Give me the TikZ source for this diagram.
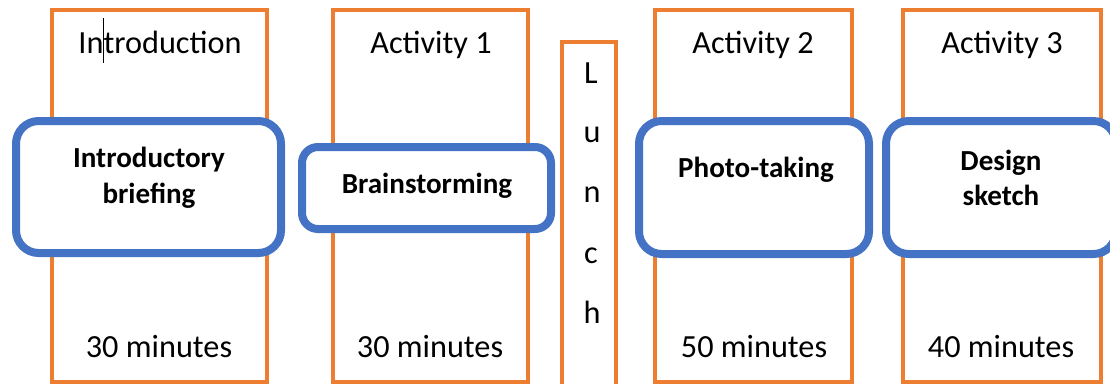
\documentclass[tikz,border=0pt]{standalone}
\usepackage{fontspec}
\setmainfont{Carlito}
\usetikzlibrary{fit}
\definecolor{org}{HTML}{ED7D31}
\definecolor{blu}{HTML}{4472C4}
\begin{document}
\begin{tikzpicture}[x=0.75pt,y=-0.75pt,
  col/.style={draw=org, line width=2.7pt, fill=white, inner sep=0pt},
  actbig/.style={draw=blu, line width=6pt, fill=white, inner sep=0pt, rounded corners=17pt},
  actsmall/.style={draw=blu, line width=6pt, fill=white, inner sep=0pt, rounded corners=12pt},
  ttl/.style={font=\fontsize{24.2}{29}\selectfont, anchor=base, inner sep=0pt},
  lun/.style={font=\fontsize{24.2}{29}\selectfont, anchor=base, inner sep=0pt},
  bld/.style={font=\bfseries\fontsize{21.8}{27}\selectfont, anchor=base, inner sep=0pt}]
\path[use as bounding box] (0,0) rectangle (1110,383);
\clip (0,0) rectangle (1110,383);
% orange columns
\node[col, fit={(52,10) (267,382)}] (c1) {};
\node[col, fit={(333,10) (528,382)}] (c2) {};
\node[col, fit={(562,42) (616,400)}] (lunch) {};
\node[col, fit={(655,10) (852,382)}] (c3) {};
\node[col, fit={(903,10) (1101,382)}] (c4) {};
% titles
\node[ttl] (t1) at (160,53) {In\makebox[0pt]{\rule[-0.3em]{0.9pt}{1.4em}}troduction};
\node[ttl] (t2) at (431,53) {Activity 1};
\node[ttl] (t3) at (753,53) {Activity 2};
\node[ttl] (t4) at (1002,53) {Activity 3};
% durations
\node[ttl] (m1) at (159,357) {30 minutes};
\node[ttl] (m2) at (430,357) {30 minutes};
\node[ttl] (m3) at (754,357) {50 minutes};
\node[ttl] (m4) at (1001,357) {40 minutes};
% lunch letters
\node[lun] (l1) at (591,83) {L};
\node[lun] (l2) at (592,142) {u};
\node[lun] (l3) at (592,202) {n};
\node[lun] (l4) at (591,263) {c};
\node[lun] (l5) at (592,323) {h};
% activity boxes
\node[actbig, fit={(16,121) (281,253)}] (a1) {};
\node[actsmall, fit={(302,147) (551,229)}] (a2) {};
\node[actbig, fit={(639,121) (869,254)}] (a3) {};
\node[actbig, fit={(886,121) (1116,254)}] (a4) {};
% activity texts
\node[bld] (a1a) at (149,167) {Introductory};
\node[bld] (a1b) at (149,203) {briefing};
\node[bld] (a2a) at (427,193) {Brainstorming};
\node[bld] (a3a) at (756,177) {Photo-taking};
\node[bld] (a4a) at (1001,170) {Design};
\node[bld] (a4b) at (1001,205) {sketch};
\end{tikzpicture}
\end{document}
